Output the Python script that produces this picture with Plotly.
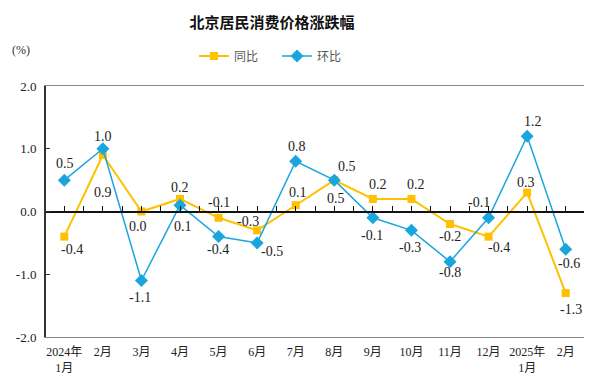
import plotly.graph_objects as go

months = ["2024年<br>1月", "2月", "3月", "4月", "5月", "6月", "7月", "8月", "9月", "10月", "11月", "12月", "2025年<br>1月", "2月"]
yoy = [-0.4, 0.9, 0.0, 0.2, -0.1, -0.3, 0.1, 0.5, 0.2, 0.2, -0.2, -0.4, 0.3, -1.3]
mom = [0.5, 1.0, -1.1, 0.1, -0.4, -0.5, 0.8, 0.5, -0.1, -0.3, -0.8, -0.1, 1.2, -0.6]
yticks = [2.0, 1.0, 0.0, -1.0, -2.0]

# label offsets in pixels (dx right, dy down) relative to each point
yoy_dx = [8, 0, -3, 0, 0, -9, 2, 2, 5, 5, 0, 10, -1, 5]
yoy_dy = [13, 37, 15, -11, -15, -9, -13, 18, -14, -14, 12, 11, -10, 16]
mom_dx = [1, 0, -1, 3, -1, 15, 1, 13, -1, -1, 0, -10, 6, 3]
mom_dy = [-17, -12, 17, 21, 13, 9, -15, -14, 18, 17, 11, -15, -15, 14]

YEL = "#FFC000"
BLU = "#1AA5DF"
FONT = "Liberation Serif, Noto Sans CJK SC, serif"

# the page body adds an 8px offset; the figure is sized to compensate
W, H = 584, 375

x = list(range(len(months)))

fig = go.Figure()
fig.add_trace(go.Scatter(
    x=x, y=yoy, name="同比", mode="lines+markers",
    line=dict(color=YEL, width=2), marker=dict(symbol="square", size=8, color=YEL),
    cliponaxis=False,
))
fig.add_trace(go.Scatter(
    x=x, y=mom, name="环比", mode="lines+markers",
    line=dict(color=BLU, width=1.5), marker=dict(symbol="diamond", size=10, color=BLU),
    cliponaxis=False,
))
# zero line axis with tick marks
fig.add_trace(go.Scatter(x=[x[0]], y=[0], xaxis="x2", mode="markers",
                         marker=dict(opacity=0), showlegend=False, hoverinfo="skip"))

annotations = []
for vals, dxs, dys in ((yoy, yoy_dx, yoy_dy), (mom, mom_dx, mom_dy)):
    for i, v in enumerate(vals):
        annotations.append(dict(
            x=x[i], y=v, xref="x", yref="y", text=f"{v:.1f}", showarrow=False,
            xanchor="center", yanchor="middle", xshift=dxs[i], yshift=-dys[i],
            font=dict(size=14, family=FONT, color="#222")))
annotations.append(dict(text="(%)", xref="paper", yref="paper", x=-0.044, y=1.143, xanchor="center",
                        yanchor="middle", showarrow=False,
                        font=dict(size=12, family=FONT, color="#333")))

fig.update_layout(
    width=W, height=H,
    margin=dict(l=37, r=7, t=78, b=46),
    paper_bgcolor="white", plot_bgcolor="white",
    font=dict(family=FONT, size=13, color="#222"),
    title=dict(text="<b>北京居民消费价格涨跌幅</b>", x=264 / W, xanchor="center", xref="container",
               y=1 - 15 / H, yanchor="middle", yref="container",
               font=dict(size=15, family="Noto Sans CJK SC", color="#111")),
    legend=dict(orientation="h", x=186 / W, xanchor="left", xref="container",
                y=1 - 48 / H, yanchor="middle", yref="container",
                font=dict(size=12, family="Noto Sans CJK SC", color="#555"),
                itemwidth=30, entrywidth=38, entrywidthmode="pixels",
                traceorder="normal", bgcolor="rgba(0,0,0,0)"),
    showlegend=True,
    xaxis=dict(range=[-0.5, 13.5], tickvals=x, ticktext=months, showgrid=False, zeroline=False,
               showline=True, linecolor="#888", linewidth=1, mirror=True, ticks="",
               ticklabelstandoff=4,
               automargin=False, tickfont=dict(size=12, family=FONT, color="#222")),
    xaxis2=dict(range=[-0.5, 13.5], overlaying="x", anchor="free", position=0.5,
                showline=True, linecolor="#111", linewidth=1.5, ticks="inside", ticklen=5,
                tickcolor="#111", tickvals=[i * 0.5 for i in range(27)], showticklabels=False,
                showgrid=False, zeroline=False, automargin=False),
    yaxis=dict(range=[-2, 2], tickvals=yticks, ticktext=[f"{v:.1f}" for v in yticks],
               showgrid=False, zeroline=False, showline=True, linecolor="#888", linewidth=1,
               mirror=True, ticks="inside", ticklen=5, tickcolor="#333", automargin=False,
               ticklabelstandoff=5,
               tickfont=dict(size=13, family=FONT, color="#222")),
    annotations=annotations,
)
# dark left axis line
fig.add_shape(type="line", xref="paper", yref="paper", x0=0, x1=0, y0=0, y1=1,
              line=dict(color="#333", width=2))

fig.write_html("out.html")
